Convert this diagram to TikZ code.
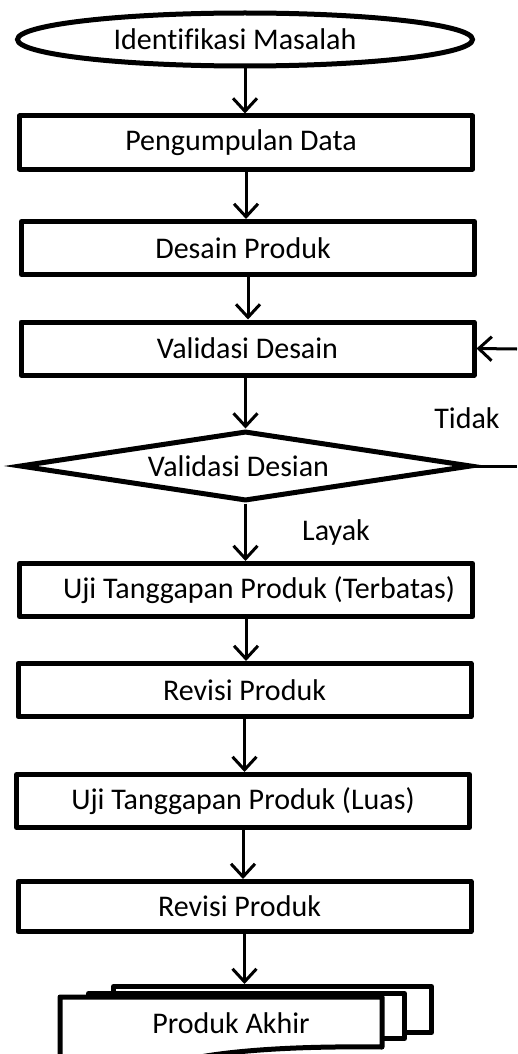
\documentclass[tikz,border=0pt]{standalone}
\usepackage{fontspec}
\setmainfont{Carlito}[Ligatures={NoCommon}]
\usetikzlibrary{shapes.geometric,arrows.meta}

\begin{document}
\begin{tikzpicture}[x=1pt,y=-1pt,font=\fontsize{30}{36}\selectfont,
    kotak/.style={draw,rectangle,line width=5pt,line join=round,minimum width=453pt,minimum height=53pt,inner sep=0pt},
    lembar/.style={draw,rectangle,fill=white,line width=5pt,line join=round,inner sep=0pt},
    panah/.style={line width=3pt,-{Straight Barb[length=13pt,width=24pt]}}]
            \useasboundingbox (0,0) rectangle (517,1054);
            \node[draw,ellipse,line width=5pt,minimum width=455pt,minimum height=53pt,inner sep=0pt] (identifikasi) at (245,39.5) {Identifikasi Masalah\hspace*{20pt}};
            \node[kotak] (pengumpulan) at (246,142.5) {Pengumpulan Data\hspace*{10pt}};
            \node[kotak] (desain) at (248,248) {Desain Produk\hspace*{10pt}};
            \node[kotak] (validasi) at (247.5,348.5) {Validasi Desain};
            \node[draw,diamond,aspect=6,line width=5pt,minimum width=452pt,minimum height=70pt,inner sep=0pt] (cekvalidasi) at (245.5,466) {Validasi Desian\hspace*{14pt}};
            \node[kotak] (ujiterbatas) at (246,590) {\hspace*{26pt}Uji Tanggapan Produk (Terbatas)};
            \node[kotak] (revisi) at (244.5,690) {Revisi Produk};
            \node[kotak] (ujiluas) at (243,801) {Uji Tanggapan Produk (Luas)};
            \node[kotak,minimum height=50pt] (revisiakhir) at (244.5,906.5) {Revisi Produk\hspace*{10pt}};
            % lembar dokumen bertumpuk
            \begin{scope}
            \clip (0,0) rectangle (517,1054);
            \node[lembar,minimum width=318pt,minimum height=46pt] (lembarbelakang) at (272.5,1009.5) {};
            \node[lembar,minimum width=316pt,minimum height=45pt] (lembartengah) at (246.5,1016) {};
            \filldraw[fill=white,line width=5pt,line join=round] (60,1080) -- (60,997) -- (382,997) -- (382,1047) .. controls (300,1046) and (240,1050) .. (200,1057) .. controls (150,1066) and (100,1072) .. (60,1080) -- cycle;
            \end{scope}
            \node (produkakhir) at (231,1023) {Produk Akhir};
            \node (tidak) at (467,418) {Tidak};
            \node (layak) at (336,532) {Layak};
            \coordinate (tepibawah) at (517,466);
            \coordinate (tepiatas) at (517,349);
            \draw[panah] (identifikasi.south) -- (identifikasi.south |- pengumpulan.north);
            \draw[panah] (pengumpulan.south) -- (pengumpulan.south |- desain.north);
            \draw[panah] (desain.south) -- (desain.south |- validasi.north);
            \draw[panah] (cekvalidasi.north |- validasi.south) -- (cekvalidasi.north);
            \draw[panah] (cekvalidasi.south) -- (cekvalidasi.south |- ujiterbatas.north);
            \draw[panah] (ujiterbatas.south) -- (ujiterbatas.south |- revisi.north);
            \draw[panah] (revisi.south) -- (revisi.south |- ujiluas.north);
            \draw[panah] (ujiluas.south) -- (ujiluas.south |- revisiakhir.north);
            \draw[panah] (revisiakhir.south) -- (revisiakhir.south |- lembarbelakang.north);
            \draw[line width=3pt] (cekvalidasi.east) -- (tepibawah);
            \draw[panah] (tepiatas) -- (validasi.east);
 \end{tikzpicture}
\end{document}
